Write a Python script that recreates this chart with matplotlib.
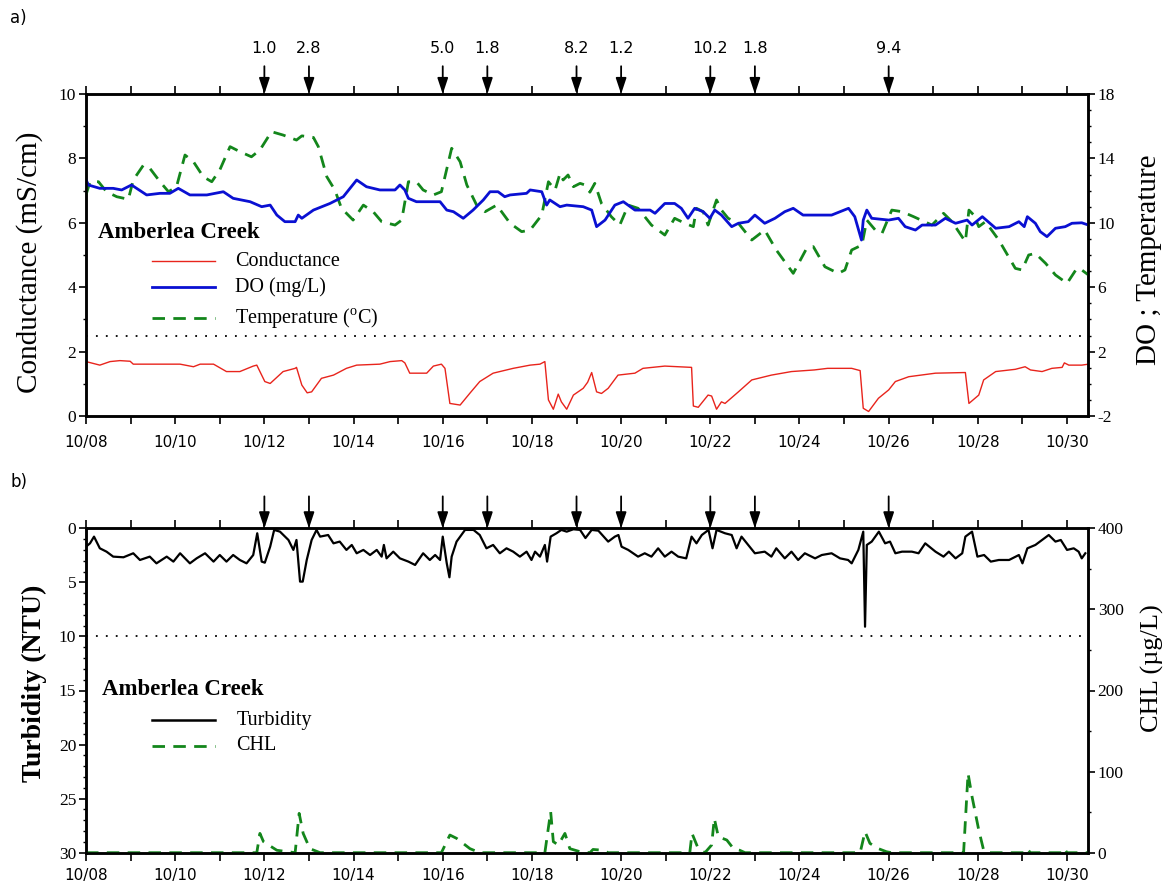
import matplotlib
matplotlib.use('Agg')
import matplotlib.pyplot as plt
from matplotlib.lines import Line2D
from matplotlib.ticker import MultipleLocator, FixedLocator

plt.rcParams['font.family'] = 'Liberation Serif'
plt.rcParams['mathtext.fontset'] = 'custom'
plt.rcParams['mathtext.rm'] = 'Liberation Serif'
plt.rcParams['axes.unicode_minus'] = False

# x values are days since 10/08 00:00
date_labels = ['10/08', '10/10', '10/12', '10/14', '10/16', '10/18',
               '10/20', '10/22', '10/24', '10/26', '10/28', '10/30']
storm_day = [4, 5, 8, 9, 11, 12, 14, 15, 18]
storm_rain = ['1.0', '2.8', '5.0', '1.8', '8.2', '1.2', '10.2', '1.8', '9.4']
right_ticks_a = [-2, 2, 6, 10, 14, 18]

# conductance (mS/cm), left axis of panel a
cond_day = [0, 0.31, 0.54, 0.76, 0.99, 1.06, 2.11, 2.41, 2.56, 2.86, 3.15, 3.45, 3.75, 3.83,
            4.01, 4.13, 4.42, 4.69, 4.72, 4.84, 4.96, 5.06, 5.28, 5.55, 5.84, 6.07, 6.59, 6.82,
            7.08, 7.15, 7.26, 7.64, 7.79, 7.97, 8.05, 8.16, 8.39, 8.61, 8.83, 9.13, 9.58, 9.96,
            10.18, 10.29, 10.37, 10.48, 10.59, 10.66, 10.78, 10.93, 11.15, 11.25, 11.34, 11.45,
            11.56, 11.71, 11.93, 12.31, 12.49, 12.98, 13.58, 13.62, 13.73, 13.95, 14.03, 14.14,
            14.25, 14.33, 14.63, 14.93, 15.37, 15.82, 16.33, 16.63, 17.17, 17.36, 17.43, 17.55,
            17.77, 18.0, 18.15, 18.45, 19.05, 19.72, 19.8, 20.02, 20.13, 20.4, 20.84, 21.06,
            21.18, 21.44, 21.66, 21.89, 21.94, 22.04, 22.33, 22.48]
cond_val = [1.69, 1.58, 1.69, 1.72, 1.70, 1.61, 1.61, 1.53, 1.61, 1.61, 1.38, 1.38, 1.55, 1.58,
            1.07, 1.01, 1.38, 1.48, 1.51, 0.96, 0.72, 0.75, 1.17, 1.27, 1.48, 1.58, 1.61, 1.69,
            1.72, 1.65, 1.33, 1.33, 1.55, 1.61, 1.48, 0.39, 0.34, 0.71, 1.07, 1.33, 1.48, 1.58,
            1.61, 1.69, 0.50, 0.21, 0.68, 0.44, 0.21, 0.65, 0.86, 1.05, 1.35, 0.75,
            0.70, 0.86, 1.27, 1.33, 1.48, 1.55, 1.51, 0.31, 0.27, 0.65, 0.62, 0.21,
            0.44, 0.39, 0.75, 1.12, 1.27, 1.38, 1.43, 1.48, 1.48, 1.41, 0.24, 0.14,
            0.55, 0.81, 1.07, 1.22, 1.33, 1.35, 0.39, 0.65, 1.12, 1.38, 1.45, 1.53,
            1.43, 1.38, 1.48, 1.51, 1.65, 1.58, 1.58, 1.61]

# dissolved oxygen (mg/L), right axis of panel a
do_day = [0, 0.05, 0.31, 0.61, 0.8, 1.02, 1.36, 1.66, 1.88, 2.07, 2.33, 2.71, 3.08, 3.3, 3.68,
          3.94, 4.13, 4.28, 4.46, 4.69, 4.76, 4.84, 5.1, 5.47, 5.77, 6.07, 6.29, 6.59, 6.93,
          7.04, 7.15, 7.23, 7.41, 7.94, 8.09, 8.24, 8.46, 8.68, 8.91, 9.06, 9.24, 9.39, 9.51,
          9.88, 9.96, 10.22, 10.33, 10.4, 10.63, 10.78, 11.15, 11.34, 11.45, 11.64, 11.86,
          12.05, 12.31, 12.65, 12.76, 12.98, 13.2, 13.35, 13.5, 13.65, 13.84, 13.99, 14.1,
          14.25, 14.48, 14.63, 14.85, 15.0, 15.22, 15.45, 15.67, 15.86, 16.08, 16.27, 16.72,
          17.1, 17.24, 17.39, 17.43, 17.51, 17.62, 18.0, 18.22, 18.37, 18.6, 18.75, 19.05,
          19.27, 19.5, 19.76, 19.87, 20.1, 20.4, 20.7, 20.92, 21.04, 21.11, 21.29, 21.4,
          21.55, 21.74, 21.96, 22.11, 22.33, 22.48]
do_val = [12.7, 12.35, 12.14, 12.14, 12.04, 12.35, 11.73, 11.83, 11.83, 12.14, 11.73, 11.73,
          11.93, 11.52, 11.31, 11.0, 11.1, 10.48, 10.07, 10.07, 10.48, 10.28, 10.79, 11.2,
          11.62, 12.66, 12.24, 12.04, 12.04, 12.35, 12.04, 11.52, 11.31, 11.31, 10.79, 10.69,
          10.28, 10.79, 11.42, 11.93, 11.93, 11.62, 11.73, 11.83, 12.04, 11.93, 11.1, 11.42,
          11.0, 11.1, 11.0, 10.79, 9.76, 10.17, 11.1, 11.31, 10.79, 10.79, 10.59, 11.2, 11.2,
          10.9, 10.28, 10.9, 10.69, 10.28, 10.79, 10.48, 9.76, 9.97, 10.07, 10.48, 9.97,
          10.28, 10.69, 10.9, 10.48, 10.48, 10.48, 10.9, 10.38, 8.93, 10.17, 10.79, 10.28,
          10.17, 10.28, 9.76, 9.55, 9.86, 9.86, 10.28, 9.97, 10.17, 9.86, 10.38, 9.66, 9.76,
          10.07, 9.76, 10.38, 9.97, 9.45, 9.14, 9.66, 9.76, 9.97, 10.0, 9.86]

# temperature (deg C), right axis of panel a
temp_day = [0, 0.09, 0.28, 0.46, 0.69, 0.95, 1.06, 1.29, 1.43, 1.66, 1.85, 2.03, 2.22, 2.41,
            2.63, 2.82, 3.0, 3.23, 3.45, 3.71, 3.9, 4.16, 4.42, 4.72, 4.84, 5.1, 5.21, 5.4,
            5.58, 5.73, 5.99, 6.22, 6.44, 6.63, 6.93, 7.08, 7.23, 7.41, 7.56, 7.79, 7.97, 8.2,
            8.39, 8.54, 8.76, 8.95, 9.21, 9.51, 9.77, 9.96, 10.22, 10.37, 10.52, 10.63, 10.7,
            10.81, 10.93, 11.08, 11.19, 11.3, 11.41, 11.56, 11.78, 11.97, 12.16, 12.38, 12.68,
            12.98, 13.2, 13.43, 13.62, 13.69, 13.84, 13.95, 14.14, 14.25, 14.4, 14.63, 14.93,
            15.22, 15.48, 15.86, 16.16, 16.31, 16.57, 16.87, 17.02, 17.17, 17.4, 17.51, 17.7,
            17.85, 18.07, 18.3, 18.56, 18.97, 19.23, 19.42, 19.72, 19.8, 19.91, 20.02, 20.17,
            20.47, 20.84, 20.99, 21.14, 21.29, 21.52, 21.74, 22.0, 22.22, 22.33, 22.48]
temp_val = [11.73, 12.55, 12.55, 11.93, 11.62, 11.46, 12.66, 13.59, 13.39, 12.55, 11.93, 12.24,
            14.21, 13.79, 12.86, 12.55, 13.28, 14.73, 14.42, 14.1, 14.52, 15.66, 15.45, 15.14,
            15.4, 15.3, 14.73, 12.86, 12.04, 10.9, 10.17, 11.1, 10.69, 10.07, 9.86, 10.17,
            12.55, 12.55, 12.04, 11.73, 11.93, 14.63, 13.79, 12.35, 11.1, 10.69, 11.1, 9.97,
            9.45, 9.55, 10.48, 12.55, 12.04, 13.07, 12.66, 12.97, 12.24, 12.45, 12.35, 11.9,
            12.45, 11.2, 10.38, 9.86, 11.1, 10.9, 9.86, 9.24, 10.28, 9.97, 9.76, 10.9, 10.69,
            9.86, 11.42, 10.79, 10.28, 9.97, 8.93, 9.55, 8.31, 6.86, 8.41, 8.52, 7.27, 6.86,
            7.07, 8.31, 8.62, 10.17, 9.55, 9.34, 10.79, 10.69, 10.38, 9.86, 10.59, 10.07, 8.83,
            10.79, 10.48, 9.76, 10.07, 8.93, 7.17, 7.07, 8.0, 8.1, 7.48, 6.76, 6.24, 7.17,
            7.07, 6.76]

# turbidity (NTU), inverted left axis of panel b
turb_day = [0, 0.09, 0.18, 0.31, 0.46, 0.61, 0.84, 1.06, 1.21, 1.43, 1.58, 1.81, 1.96, 2.11,
            2.33, 2.48, 2.67, 2.86, 3.0, 3.15, 3.3, 3.45, 3.6, 3.75, 3.84, 3.94, 4.01, 4.13,
            4.22, 4.35, 4.54, 4.65, 4.72, 4.8, 4.86, 4.95, 5.06, 5.17, 5.25, 5.43, 5.55, 5.69,
            5.84, 5.96, 6.07, 6.22, 6.37, 6.52, 6.63, 6.68, 6.74, 6.89, 7.04, 7.23, 7.38, 7.56,
            7.71, 7.83, 7.94, 8.0, 8.09, 8.15, 8.2, 8.31, 8.5, 8.69, 8.83, 8.98, 9.13, 9.28,
            9.43, 9.58, 9.73, 9.88, 9.99, 10.07, 10.18, 10.29, 10.34, 10.42, 10.55, 10.66,
            10.78, 10.93, 11.08, 11.2, 11.34, 11.49, 11.71, 11.86, 11.94, 12.01, 12.16, 12.38,
            12.53, 12.68, 12.83, 12.98, 13.13, 13.28, 13.46, 13.58, 13.69, 13.81, 13.96, 14.05,
            14.14, 14.33, 14.48, 14.59, 14.7, 14.85, 15.0, 15.22, 15.37, 15.48, 15.67, 15.82,
            15.97, 16.12, 16.35, 16.5, 16.72, 16.91, 17.09, 17.17, 17.32, 17.43, 17.47, 17.51,
            17.62, 17.78, 17.92, 18.03, 18.15, 18.3, 18.52, 18.67, 18.82, 19.05, 19.23, 19.35,
            19.5, 19.65, 19.72, 19.87, 19.99, 20.14, 20.29, 20.47, 20.7, 20.92, 21.0, 21.11,
            21.29, 21.44, 21.59, 21.74, 21.86, 22.0, 22.15, 22.26, 22.33, 22.41]
turb_val = [1.70, 1.39, 0.77, 1.85, 2.16, 2.62, 2.68, 2.31, 2.93, 2.62, 3.24, 2.62, 3.08, 2.31,
            3.24, 2.78, 2.31, 3.08, 2.47, 3.08, 2.47, 2.93, 3.24, 2.47, 0.46, 3.08, 3.18, 1.70,
            0.15, 0.31, 1.08, 2.0, 1.08, 4.93, 4.93, 2.93, 1.08, 0.15, 0.77, 0.62, 1.39, 1.23,
            2.0, 1.54, 2.31, 2.0, 2.47, 2.0, 2.62, 1.54, 2.78, 2.16, 2.78, 3.08, 3.39, 2.31,
            2.93, 2.47, 2.93, 0.77, 3.24, 4.53, 2.62, 1.23, 0.15, 0.15, 0.62, 1.85, 1.54, 2.31,
            1.85, 2.16, 2.62, 2.16, 2.93, 2.16, 2.62, 1.54, 3.08, 0.77, 0.46, 0.15,
            0.31, 0.09, 0.15, 0.9, 0.15, 0.22, 1.23, 0.77, 0.62, 1.70, 2.0, 2.62,
            2.31, 2.62, 1.85, 2.62, 2.16, 2.62, 2.78, 0.77, 1.39, 0.62, 0.15, 1.85,
            0.15, 0.46, 0.62, 1.85, 0.77, 1.54, 2.31, 2.16, 2.62, 1.85, 2.78, 2.16,
            2.93, 2.31, 2.78, 2.47, 2.31, 2.78, 2.93, 3.24, 2.0, 0.31, 9.1, 1.54,
            1.23, 0.31, 1.39, 1.23, 2.31, 2.16, 2.16, 2.31, 1.39, 2.16, 2.62, 2.16,
            2.78, 2.31, 0.77, 0.31, 2.62, 2.47, 3.08, 2.93, 2.93, 2.47, 3.24, 1.85,
            1.54, 1.08, 0.62, 1.23, 1.08, 2.0, 1.85, 2.16, 2.78, 2.31]

# chlorophyll (ug/L), right axis of panel b
chl_day = [0, 3.83, 3.9, 3.98, 4.28, 4.69, 4.78, 4.87, 5.02, 5.25, 7.97, 8.16, 8.31, 8.61, 8.83,
           10.29, 10.42, 10.48, 10.59, 10.74, 10.85, 11.08, 11.3, 11.37, 11.6, 11.71, 13.54,
           13.59, 13.73, 13.88, 14.03, 14.09, 14.18, 14.37, 14.52, 14.66, 14.78, 17.36, 17.47,
           17.58, 17.77, 17.95, 18.07, 19.68, 19.78, 19.87, 20.02, 20.13, 20.24, 21.03, 21.1,
           21.18, 21.89, 21.94, 22.0, 22.48]
chl_val = [0, 0, 23.8, 13.6, 3, 0, 48.5, 23.8, 5, 0, 0, 21.8, 17.7, 5, 0,
           0, 50.6, 13.6, 9.5, 23.8, 5, 1.2, 0, 4, 3, 0, 0,
           23.8, 5, 0, 9.5, 42.3, 19.7, 15.6, 5, 3, 0, 0, 25.9,
           11.5, 5, 1.2, 0, 0, 97.8, 69, 28, 3, 0, 0, 5,
           0, 0, 5, 0, 0]

fig = plt.figure(figsize=(11.74, 8.91), dpi=100)
W, H = 1174, 891
ax1 = fig.add_axes([86 / W, 1 - 416 / H, 1002 / W, 322 / H])
ax2 = fig.add_axes([86 / W, 1 - 852.7 / H, 1002 / W, 324.4 / H])
ax1r = ax1.twinx()
ax2r = ax2.twinx()

red = '#e8241c'
blue = '#0a10d2'
green = '#13861b'


def style(ax, axr, xpad):
    ax.set_xlim(0, 22.47)
    ax.set_xticks(range(0, 23, 2))
    ax.set_xticklabels(date_labels, fontfamily='DejaVu Sans', fontsize=11)
    ax.set_xticks(range(1, 23, 2), minor=True)
    ax.tick_params(axis='x', which='both', direction='out', top=True, bottom=True,
                   length=6, width=1.2, pad=xpad)
    for a in (ax, axr):
        a.tick_params(axis='y', which='major', direction='out', length=5, width=1.2,
                      labelsize=12.5, pad=2)
        a.tick_params(axis='y', which='minor', direction='out', length=2.5, width=1)
        for s in a.spines.values():
            s.set_linewidth(1.8)


# ---------- panel a ----------
ax1r.plot(temp_day, temp_val, color=green, lw=2, ls=(0, (4.5, 3)))
ax1r.plot(do_day, do_val, color=blue, lw=2)
ax1.plot(cond_day, cond_val, color=red, lw=1)
ax1.axhline(2.5, color='black', lw=1.3, ls=(0, (1, 4.5)))
ax1.set_ylim(0, 10)
ax1.yaxis.set_major_locator(MultipleLocator(2))
ax1.yaxis.set_minor_locator(MultipleLocator(1))
ax1r.set_ylim(-2, 18)
ax1r.yaxis.set_major_locator(FixedLocator(right_ticks_a))
ax1r.yaxis.set_minor_locator(MultipleLocator(1))
style(ax1, ax1r, 8)
ax1.set_ylabel('Conductance (mS/cm)', fontsize=21)
ax1.yaxis.set_label_coords(-0.043, 0.478)
ax1r.set_ylabel('DO ; Temperature', fontsize=21)
ax1r.yaxis.set_label_coords(1.048, 0.484)

ax1.text(0.012, 0.571, 'Amberlea Creek', transform=ax1.transAxes, fontsize=16.5,
         fontweight='bold', va='center')
legend_a = [('Conductance', red, 1, '-', 0.481),
            ('DO (mg/L)', blue, 2, '-', 0.401),
            ('Temperature ($^{\\rm o}$C)', green, 2, (0, (4.5, 3)), 0.304)]
for name, col, lw, ls, yy in legend_a:
    ax1.add_line(Line2D([0.066, 0.129], [yy, yy], transform=ax1.transAxes,
                        color=col, lw=lw, ls=ls))
    ax1.text(0.149, yy, name, transform=ax1.transAxes, fontsize=14.5, va='center')

for d, r in zip(storm_day, storm_rain):
    ax1.annotate('', xy=(d, 1.0), xycoords=('data', 'axes fraction'),
                 xytext=(0, 20), textcoords='offset points',
                 arrowprops=dict(arrowstyle='-|>,head_length=0.6,head_width=0.2',
                                 mutation_scale=16, color='black', lw=1.3,
                                 shrinkA=0, shrinkB=0))
    ax1.annotate(r, xy=(d, 1.0), xycoords=('data', 'axes fraction'),
                 xytext=(0, 33), textcoords='offset points', ha='center', va='center',
                 fontfamily='DejaVu Sans', fontsize=11.5)

# ---------- panel b ----------
ax2r.plot(chl_day, chl_val, color=green, lw=2, ls=(0, (4.5, 3)))
ax2.plot(turb_day, turb_val, color='black', lw=1.6)
ax2.axhline(10, color='black', lw=1.3, ls=(0, (1, 4.5)))
ax2.set_ylim(30, 0)
ax2.yaxis.set_major_locator(MultipleLocator(5))
ax2.yaxis.set_minor_locator(MultipleLocator(1))
ax2r.set_ylim(0, 400)
ax2r.yaxis.set_major_locator(MultipleLocator(100))
ax2r.yaxis.set_minor_locator(MultipleLocator(50))
style(ax2, ax2r, 5)
ax2.set_ylabel('Turbidity (NTU)', fontsize=20, fontweight='bold')
ax2.yaxis.set_label_coords(-0.039, 0.523)
ax2r.set_ylabel('CHL (µg/L)', fontsize=19)
ax2r.yaxis.set_label_coords(1.053, 0.569)

ax2.text(0.016, 0.502, 'Amberlea Creek', transform=ax2.transAxes, fontsize=16.5,
         fontweight='bold', va='center')
legend_b = [('Turbidity', 'black', 1.8, '-', 0.409),
            ('CHL', green, 2, (0, (4.5, 3)), 0.329)]
for name, col, lw, ls, yy in legend_b:
    ax2.add_line(Line2D([0.066, 0.129], [yy, yy], transform=ax2.transAxes,
                        color=col, lw=lw, ls=ls))
    ax2.text(0.150, yy, name, transform=ax2.transAxes, fontsize=14.5, va='center')

for d in storm_day:
    ax2.annotate('', xy=(d, 1.0), xycoords=('data', 'axes fraction'),
                 xytext=(0, 23), textcoords='offset points',
                 arrowprops=dict(arrowstyle='-|>,head_length=0.6,head_width=0.2',
                                 mutation_scale=16, color='black', lw=1.3,
                                 shrinkA=0, shrinkB=0))

fig.text(10 / W, 1 - 18 / H, 'a)', fontfamily='DejaVu Sans', fontsize=12, va='center')
fig.text(10 / W, 1 - 482 / H, 'b)', fontfamily='DejaVu Sans', fontsize=12, va='center')

fig.savefig('out.png', dpi=100)
